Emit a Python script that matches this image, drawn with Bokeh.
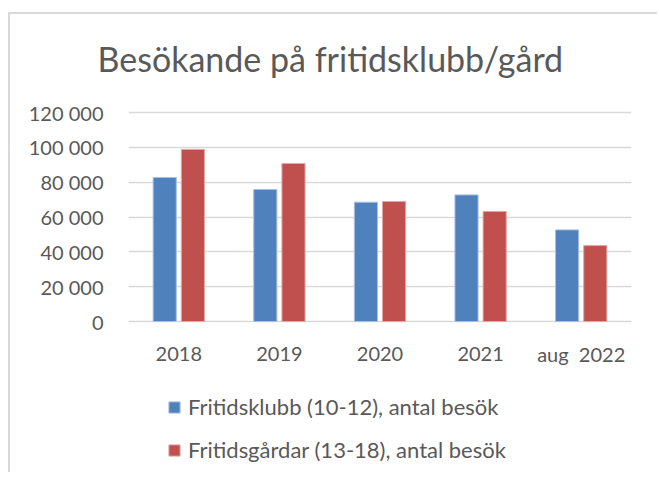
from bokeh.plotting import figure
from bokeh.models import FactorRange, Range1d, FixedTicker, Legend, LegendItem, ColumnDataSource
from bokeh.core.properties import value
from bokeh.transform import dodge
from bokeh.embed import file_html
from bokeh.resources import INLINE

categories = ["2018", "2019", "2020", "2021", "aug \u00a02022"]
klubb = [82700, 75800, 68500, 72700, 52600]
gardar = [98800, 90700, 68900, 63200, 43600]
y_ticks = [0, 20000, 40000, 60000, 80000, 100000, 120000]
y_labels = ["0", "20 000", "40 000", "60 000", "80 000", "100 000", "120 000"]
title_text = "Besökande på fritidsklubb/gård"
series_names = ["Fritidsklubb (10-12), antal besök", "Fritidsgårdar (13-18), antal besök"]

FONT = "Lato"
GREY = "#595959"

# layout (pixels): title panel on top, then the plot frame down to the bottom.
# The value band 0..120000 occupies VALUE_PX pixels starting GAP_PX below the frame top.
W, H = 649, 460
BORDER_TOP = 64
GAP_PX = 34
VALUE_PX = 209
y_max = y_ticks[-1]
per_px = y_max / VALUE_PX
y_end = y_max + GAP_PX * per_px
y_start = -(H - BORDER_TOP - GAP_PX - VALUE_PX) * per_px

src = ColumnDataSource(dict(cat=categories, klubb=klubb, gardar=gardar,
                            zero=[0] * len(categories)))

p = figure(x_range=FactorRange(factors=categories, range_padding=0),
           y_range=Range1d(y_start, y_end),
           width=W, height=H, output_backend="svg", toolbar_location=None,
           min_border_left=118, min_border_right=28, min_border_top=BORDER_TOP, min_border_bottom=0)
p.styles = {"margin-top": "12px", "margin-left": "8px",
            "border-top": "2px solid #D9D9D9", "border-left": "2px solid #D9D9D9"}
p.outline_line_color = None

p.title.text = title_text
p.title.text_font = FONT
p.title.text_font_size = "34px"
p.title.text_font_style = "normal"
p.title.text_color = GREY
p.title.align = "left"
p.title.offset = -31
p.title.standoff = 0

r1 = p.vbar(x=dodge("cat", -0.14, range=p.x_range), top="klubb", width=0.23, source=src,
            fill_color="#4F81BD", line_color="#A9C0DE", line_width=1)
r2 = p.vbar(x=dodge("cat", 0.14, range=p.x_range), top="gardar", width=0.23, source=src,
            fill_color="#C0504D", line_color="#E0A8A6", line_width=1)

# category labels under the zero line
p.text(x="cat", y="zero", text="cat", source=src, y_offset=32,
       text_font=value(FONT), text_font_size="20px", text_color=GREY,
       text_align="center", text_baseline="middle")

p.xaxis.visible = False
p.xgrid.grid_line_color = None
p.ygrid.ticker = FixedTicker(ticks=y_ticks)
p.ygrid.grid_line_color = "#D9D9D9"
p.ygrid.grid_line_width = 1.5

p.yaxis.ticker = FixedTicker(ticks=y_ticks)
p.yaxis.major_label_overrides = {t: l for t, l in zip(y_ticks, y_labels)}
p.yaxis.axis_line_color = None
p.yaxis.major_tick_line_color = None
p.yaxis.minor_tick_line_color = None
p.yaxis.major_label_standoff = 19
p.yaxis.major_label_text_font = FONT
p.yaxis.major_label_text_font_size = "20px"
p.yaxis.major_label_text_color = GREY

legend = Legend(items=[LegendItem(label=series_names[0], renderers=[r1]),
                       LegendItem(label=series_names[1], renderers=[r2])],
                location=(39, 11), orientation="vertical", margin=0, padding=0,
                label_text_font=FONT, label_text_font_size="22px", label_text_color=GREY,
                label_standoff=7, glyph_width=14, glyph_height=14, spacing=16,
                border_line_color=None, background_fill_alpha=0)
p.add_layout(legend, "center")

open("out.html", "w").write(file_html(p, INLINE))
